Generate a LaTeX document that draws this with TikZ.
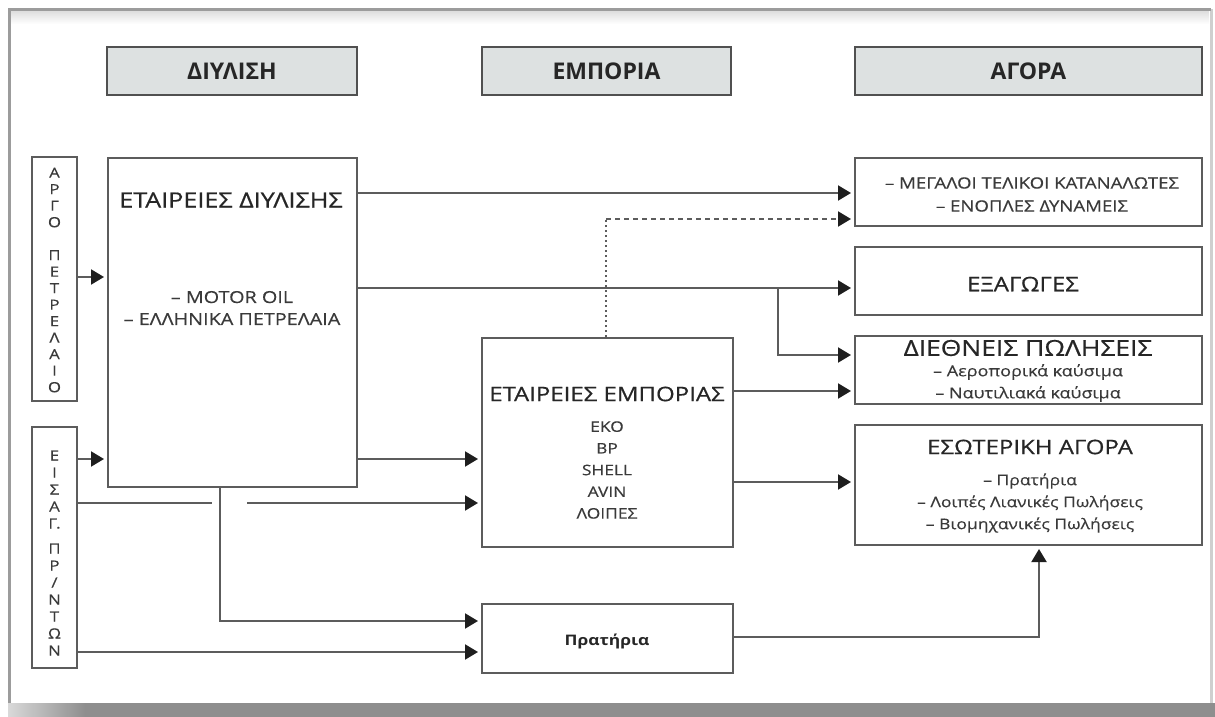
\documentclass[tikz,border=0pt]{standalone}
\usepackage{fontspec}
\setmainfont[FakeStretch=1.2]{Open Sans}
\newfontfamily\hdfont[FakeStretch=1.0]{Open Sans}
\newfontfamily\tfont[FakeStretch=1.2,FakeBold=0.6]{Open Sans}
\newfontfamily\sfont[FakeStretch=1.2,FakeBold=0.35]{Open Sans}
\usetikzlibrary{arrows.meta}
\definecolor{ln}{HTML}{5C5C5C}
\definecolor{txt}{HTML}{262626}
\definecolor{subtxt}{HTML}{3A3A3A}
\definecolor{hdfill}{HTML}{DDE1E1}
\definecolor{hdline}{HTML}{505050}
\definecolor{framec}{HTML}{9C9C9C}
\definecolor{framer}{HTML}{CFCFCF}
\definecolor{barc}{HTML}{8E8E8E}
\definecolor{tipc}{HTML}{1E1E1E}
\newcommand{\fsz}[2]{\fontsize{#1}{#2}\selectfont}
\begin{document}
\begin{tikzpicture}[x=1pt,y=-1pt,
  box/.style={draw=ln, line width=2pt, fill=white, rectangle, inner sep=0pt},
  hdr/.style={draw=hdline, line width=2.5pt, fill=hdfill, rectangle, inner sep=0pt,
              minimum height=48pt, text=txt, font=\hdfont\fsz{23}{27}\bfseries},
  lbl/.style={text=txt, inner sep=0pt, align=center},
  sub/.style={text=subtxt, inner sep=0pt, align=center},
  line/.style={draw=ln, line width=2pt},
  conn/.style={line, -{Triangle[length=13pt,width=15pt,color=tipc]}, shorten >=3pt}]
% background and frame
\useasboundingbox (0,0) rectangle (1215,717);
\fill[white] (0,0) rectangle (1215,717);
\shade[top color=black!13, bottom color=white] (11,11) rectangle (1209,24);
\draw[framer, line width=3pt] (1211,9.5) -- (1211,717);
\draw[framec, line width=3pt] (9.5,717) -- (9.5,9.5) -- (1211,9.5);
\fill[barc] (8,703) rectangle (1215,717);
\shade[left color=black!15, right color=barc] (8,703) rectangle (85,717);

% headers
\node[hdr, minimum width=250pt] (h1) at (232,71) {ΔΙΥΛΙΣΗ};
\node[hdr, minimum width=249pt] (h2) at (606.5,71) {ΕΜΠΟΡΙΑ};
\node[hdr, minimum width=347pt] (h3) at (1028.5,71) {ΑΓΟΡΑ};

% left source boxes
\node[box, minimum width=45pt, minimum height=244pt] (argo) at (54.5,279) {};
\node[sub, font=\sfont\fsz{14}{16.5}] (argot) at (54.5,280)
  {Α\\Ρ\\Γ\\Ο\\\mbox{}\\Π\\Ε\\Τ\\Ρ\\Ε\\Λ\\Α\\Ι\\Ο};
\node[box, minimum width=45pt, minimum height=241pt] (eisag) at (54.5,547.5) {};
\node[sub, font=\sfont\fsz{14}{17}] (eisagt) at (54.5,553)
  {Ε\\Ι\\Σ\\Α\\Γ.\\[8pt]Π\\Ρ\\/\\Ν\\Τ\\Ω\\Ν};

% refining companies
\node[box, minimum width=249pt, minimum height=329pt] (diyl) at (232.5,322.5) {};
\node[lbl, font=\tfont\fsz{21}{24}] (diylt) at (231,200) {ΕΤΑΙΡΕΙΕΣ ΔΙΥΛΙΣΗΣ};
\node[sub, font=\sfont\fsz{16.5}{22}] (diyll) at (232,308) {– MOTOR OIL\\– ΕΛΛΗΝΙΚΑ ΠΕΤΡΕΛΑΙΑ};

% trading companies
\node[box, minimum width=251pt, minimum height=209pt] (empor) at (607.5,442.5) {};
\node[lbl, font=\tfont\fsz{20}{23}] (emport) at (607,394) {ΕΤΑΙΡΕΙΕΣ ΕΜΠΟΡΙΑΣ};
\node[sub, font=\sfont\fsz{14.5}{21.7}] (emporl) at (607,470) {ΕΚΟ\\BP\\SHELL\\AVIN\\ΛΟΙΠΕΣ};

% petrol stations
\node[box, minimum width=251pt, minimum height=69pt] (prat) at (607.5,638.5) {};
\node[lbl, font=\fsz{14.5}{18}\bfseries] (pratt) at (607,641) {Πρατήρια};

% market boxes
\node[box, minimum width=347pt, minimum height=68pt] (meg) at (1028.5,192) {};
\node[sub, font=\sfont\fsz{15.5}{23}] (megt) at (1032,194.5)
  {– ΜΕΓΑΛΟΙ ΤΕΛΙΚΟΙ ΚΑΤΑΝΑΛΩΤΕΣ\\– ΕΝΟΠΛΕΣ ΔΥΝΑΜΕΙΣ};
\node[box, minimum width=347pt, minimum height=68pt] (exag) at (1028.5,281) {};
\node[lbl, font=\tfont\fsz{20}{22}] (exagt) at (1023,284) {ΕΞΑΓΩΓΕΣ};
\node[box, minimum width=347pt, minimum height=68pt] (dieth) at (1028.5,370) {};
\node[lbl, font=\tfont\fsz{22}{24}] (dietht) at (1028,348) {ΔΙΕΘΝΕΙΣ ΠΩΛΗΣΕΙΣ};
\node[sub, font=\sfont\fsz{15}{22}] (diethl) at (1028,383)
  {– Αεροπορικά καύσιμα\\– Ναυτιλιακά καύσιμα};
\node[box, minimum width=347pt, minimum height=120pt] (esot) at (1028.5,485) {};
\node[lbl, font=\tfont\fsz{20}{24}] (esott) at (1030,447) {ΕΣΩΤΕΡΙΚΗ ΑΓΟΡΑ};
\node[sub, font=\sfont\fsz{14.6}{22}] (esotl) at (1030,503)
  {– Πρατήρια\\– Λοιπές Λιανικές Πωλήσεις\\– Βιομηχανικές Πωλήσεις};

% helper coordinates
\coordinate (br) at (778,288);
\coordinate (gapL) at (212,503);
\coordinate (gapR) at (247,503);
\coordinate (dv) at (606,219);

% connectors
\draw[conn] (argo.east |- 0,277) -- (diyl.west |- 0,277);
\draw[conn] (eisag.east |- 0,459) -- (diyl.west |- 0,459);
\draw[conn] (diyl.east |- 0,193) -- (meg.west |- 0,193);
\draw[conn] (diyl.east |- 0,288) -- (exag.west |- 0,288);
\draw[conn] (br) |- (dieth.west |- 0,355);
\draw[conn] (diyl.east |- 0,459) -- (empor.west |- 0,459);
\draw[line] (eisag.east |- 0,503) -- (gapL);
\draw[conn] (gapR) -- (empor.west |- 0,503);
\draw[conn] (diyl.south -| 220,0) |- (prat.west |- 0,621);
\draw[conn] (eisag.east |- 0,652) -- (prat.west |- 0,652);
\draw[draw=ln, line width=2pt, dash pattern=on 2pt off 3pt] (empor.north -| dv) -- (dv);
\draw[conn, dash pattern=on 5pt off 4pt] (dv) -- (meg.west |- dv);
\draw[conn] (empor.east |- 0,391) -- (dieth.west |- 0,391);
\draw[conn] (empor.east |- 0,482) -- (esot.west |- 0,482);
\draw[conn] (prat.east |- 0,637) -| (esot.south -| 1039,0);
\end{tikzpicture}
\end{document}
